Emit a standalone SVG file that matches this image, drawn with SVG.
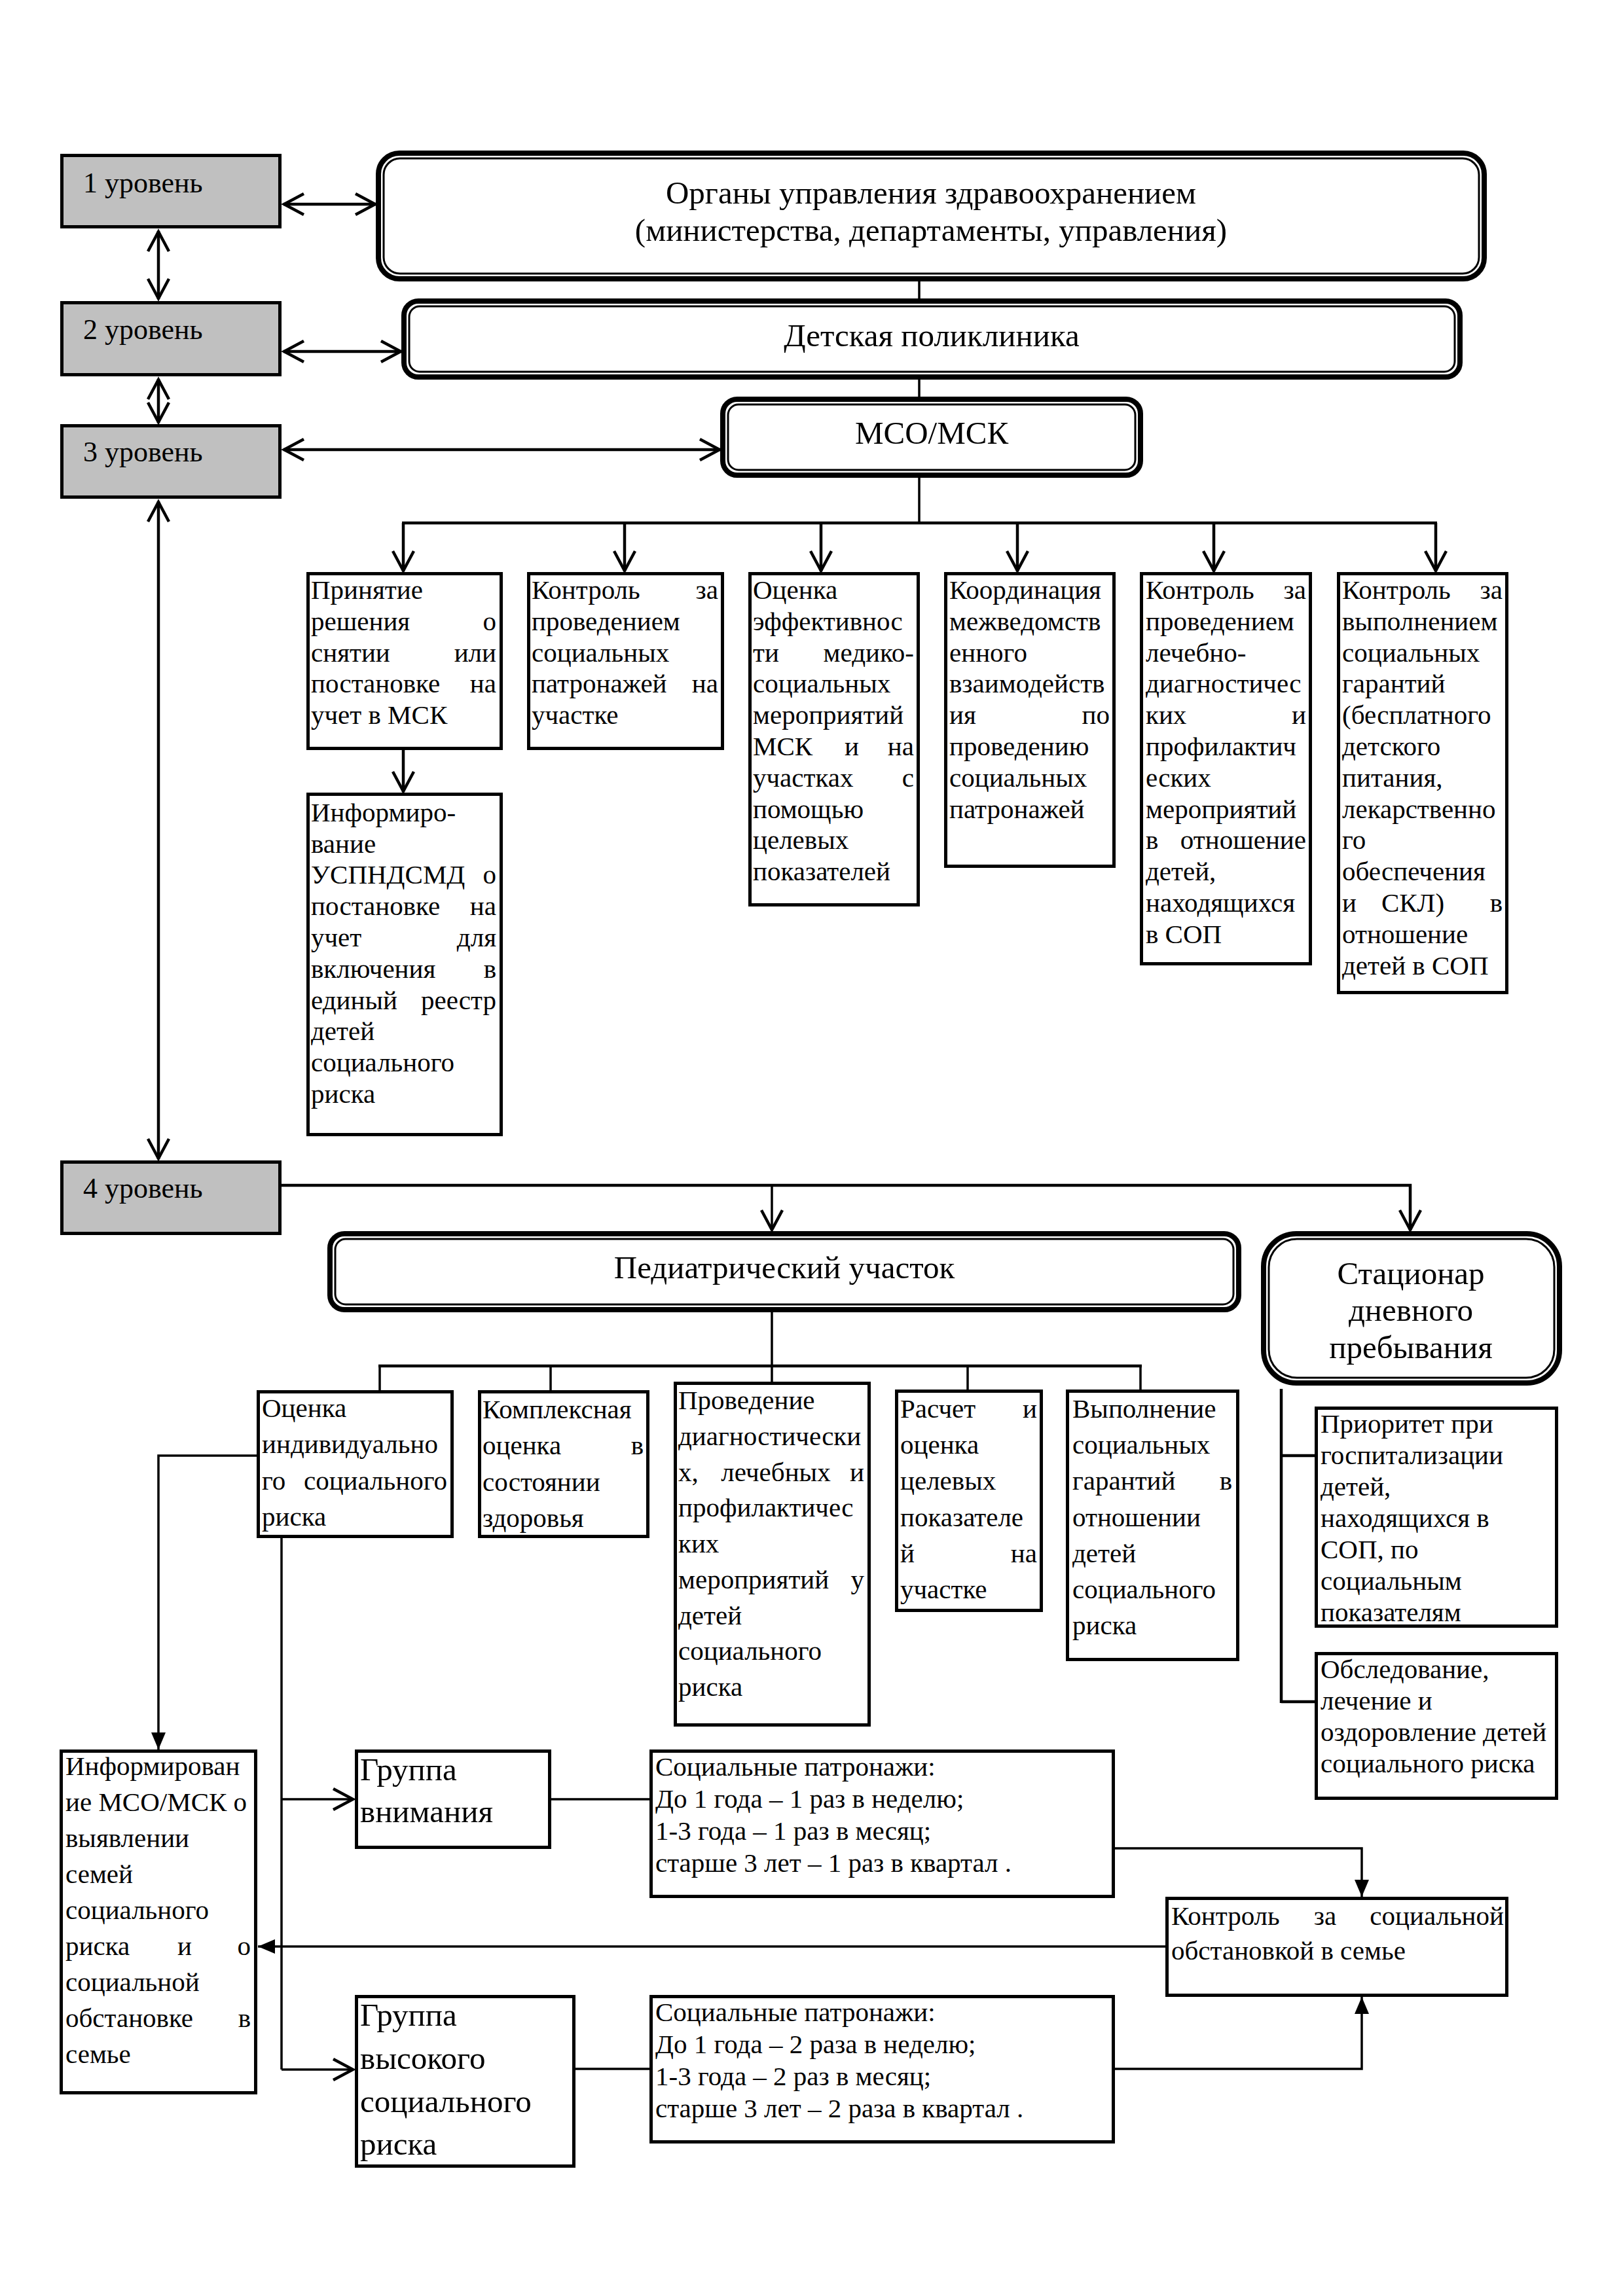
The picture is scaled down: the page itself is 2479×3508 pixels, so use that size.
<svg xmlns="http://www.w3.org/2000/svg" width="2479" height="3508" viewBox="0 0 2479 3508">
<style>
.lvl{fill:#c0c0c0;stroke:#000;stroke-width:5}
.box{fill:#fff;stroke:#000;stroke-width:5}
.outer{fill:#fff;stroke:#000;stroke-width:8}
.inner{fill:none;stroke:#000;stroke-width:3}
text{font-family:"Liberation Serif","Times New Roman",serif;font-size:41px;fill:#000}
.tl{font-size:44px}
.th{font-size:49px;text-anchor:middle}
.tg{font-size:49px}
.e{text-anchor:end}
.m{text-anchor:middle}
.ln{stroke:#000;fill:none;stroke-width:4.5}
.tn{stroke:#000;fill:none;stroke-width:3.5}
</style>
<defs>
<marker id="av" markerUnits="userSpaceOnUse" markerWidth="1" markerHeight="1" refX="0" refY="0" orient="auto-start-reverse" overflow="visible"><path d="M-31,-16 L-1,0 L-31,16" fill="none" stroke="#000" stroke-width="4.5"/></marker>
<marker id="af" markerUnits="userSpaceOnUse" markerWidth="1" markerHeight="1" refX="0" refY="0" orient="auto" overflow="visible"><path d="M-26,-11 L0,0 L-26,11 Z" fill="#000"/></marker>
</defs>
<rect width="2479" height="3508" fill="#fff"/>

<g id="connectors">
<line class="ln" x1="433" y1="312" x2="574" y2="312" marker-start="url(#av)" marker-end="url(#av)"/>
<line class="ln" x1="433" y1="537" x2="613" y2="537" marker-start="url(#av)" marker-end="url(#av)"/>
<line class="ln" x1="433" y1="687" x2="1100" y2="687" marker-start="url(#av)" marker-end="url(#av)"/>
<line class="ln" x1="242" y1="353" x2="242" y2="457" marker-start="url(#av)" marker-end="url(#av)"/>
<line class="ln" x1="242" y1="579" x2="242" y2="646" marker-start="url(#av)" marker-end="url(#av)"/>
<line class="ln" x1="242" y1="766" x2="242" y2="1771" marker-start="url(#av)" marker-end="url(#av)"/>
<line class="tn" x1="1404" y1="430" x2="1404" y2="456"/>
<line class="tn" x1="1404" y1="580" x2="1404" y2="606"/>
<line class="tn" x1="1404" y1="730" x2="1404" y2="799"/>
<line class="ln" x1="614" y1="799" x2="2195" y2="799"/>
<line class="ln" x1="616" y1="799" x2="616" y2="873" marker-end="url(#av)"/>
<line class="ln" x1="954" y1="799" x2="954" y2="873" marker-end="url(#av)"/>
<line class="ln" x1="1254" y1="799" x2="1254" y2="873" marker-end="url(#av)"/>
<line class="ln" x1="1554" y1="799" x2="1554" y2="873" marker-end="url(#av)"/>
<line class="ln" x1="1854" y1="799" x2="1854" y2="873" marker-end="url(#av)"/>
<line class="ln" x1="2193" y1="799" x2="2193" y2="873" marker-end="url(#av)"/>
<line class="ln" x1="616" y1="1146" x2="616" y2="1210" marker-end="url(#av)"/>
<polyline class="ln" points="429,1811 2154,1811 2154,1880" marker-end="url(#av)"/>
<line class="tn" x1="1179" y1="1811" x2="1179" y2="1880" marker-end="url(#av)"/>
<line class="tn" x1="1179" y1="2005" x2="1179" y2="2111"/>
<line class="ln" x1="578" y1="2087" x2="1744" y2="2087"/>
<line class="tn" x1="580" y1="2087" x2="580" y2="2124"/>
<line class="tn" x1="841" y1="2087" x2="841" y2="2124"/>
<line class="tn" x1="1478" y1="2087" x2="1478" y2="2123"/>
<line class="tn" x1="1742" y1="2087" x2="1742" y2="2123"/>
<line class="ln" x1="1957" y1="2122" x2="1957" y2="2602"/>
<line class="ln" x1="1957" y1="2224" x2="2008" y2="2224"/>
<line class="ln" x1="1957" y1="2600" x2="2008" y2="2600"/>
<polyline class="tn" points="392,2224 242,2224 242,2673" marker-end="url(#af)"/>
<line class="tn" x1="430" y1="2336" x2="430" y2="3162"/>
<line class="tn" x1="430" y1="2749" x2="540" y2="2749" marker-end="url(#av)"/>
<line class="tn" x1="430" y1="3162" x2="540" y2="3162" marker-end="url(#av)"/>
<line class="tn" x1="842" y1="2749" x2="992" y2="2749"/>
<line class="tn" x1="879" y1="3161" x2="992" y2="3161"/>
<polyline class="tn" points="1703,2824 2080,2824 2080,2898" marker-end="url(#af)"/>
<polyline class="tn" points="1703,3161 2080,3161 2080,3051" marker-end="url(#af)"/>
<line class="tn" x1="1780" y1="2974" x2="394" y2="2974" marker-end="url(#af)"/>
</g>

<g id="level1"><rect class="lvl" x="94.5" y="237.5" width="333" height="109"/><text class="tl" x="127" y="294">1 уровень</text></g>
<g id="level2"><rect class="lvl" x="94.5" y="462.5" width="333" height="110"/><text class="tl" x="127" y="518">2 уровень</text></g>
<g id="level3"><rect class="lvl" x="94.5" y="650.5" width="333" height="109"/><text class="tl" x="127" y="705">3 уровень</text></g>
<g id="level4"><rect class="lvl" x="94.5" y="1775.5" width="333" height="109"/><text class="tl" x="127" y="1830">4 уровень</text></g>

<g id="organs">
<rect class="outer" x="578" y="234" width="1689" height="192" rx="32"/>
<rect class="inner" x="586" y="242" width="1673" height="176" rx="25"/>
<text class="th" x="1422" y="311">Органы управления здравоохранением</text>
<text class="th" x="1422" y="368">(министерства, департаменты, управления)</text>
</g>
<g id="polyclinic">
<rect class="outer" x="617" y="460" width="1613" height="116" rx="22"/>
<rect class="inner" x="625" y="468" width="1597" height="100" rx="16"/>
<text class="th" x="1423" y="529">Детская поликлиника</text>
</g>
<g id="mso">
<rect class="outer" x="1104" y="610" width="638" height="116" rx="22"/>
<rect class="inner" x="1112" y="618" width="622" height="100" rx="16"/>
<text class="th" x="1423" y="678">МСО/МСК</text>
</g>

<g id="b1">
<rect class="box" x="470.5" y="876.5" width="295" height="267"/>
<text x="475" y="915">Принятие</text>
<text x="475" y="963">решения</text><text class="e" x="758" y="963">о</text>
<text x="475" y="1011">снятии</text><text class="e" x="758" y="1011">или</text>
<text x="475" y="1058">постановке</text><text class="e" x="758" y="1058">на</text>
<text x="475" y="1106">учет в МСК</text>
</g>
<g id="b1b">
<rect class="box" x="470.5" y="1213.5" width="295" height="520"/>
<text x="475" y="1255">Информиро-</text>
<text x="475" y="1303">вание</text>
<text x="475" y="1350">УСПНДСМД</text><text class="e" x="758" y="1350">о</text>
<text x="475" y="1398">постановке</text><text class="e" x="758" y="1398">на</text>
<text x="475" y="1446">учет</text><text class="e" x="758" y="1446">для</text>
<text x="475" y="1494">включения</text><text class="e" x="758" y="1494">в</text>
<text x="475" y="1542">единый</text><text class="e" x="758" y="1542">реестр</text>
<text x="475" y="1589">детей</text>
<text x="475" y="1637">социального</text>
<text x="475" y="1685">риска</text>
</g>
<g id="b2">
<rect class="box" x="807.5" y="876.5" width="296" height="267"/>
<text x="812" y="915">Контроль</text><text class="e" x="1097" y="915">за</text>
<text x="812" y="963">проведением</text>
<text x="812" y="1011">социальных</text>
<text x="812" y="1058">патронажей</text><text class="e" x="1097" y="1058">на</text>
<text x="812" y="1106">участке</text>
</g>
<g id="b3">
<rect class="box" x="1145.5" y="876.5" width="257" height="506"/>
<text x="1150" y="915">Оценка</text>
<text x="1150" y="963">эффективнос</text>
<text x="1150" y="1011">ти</text><text class="e" x="1396" y="1011">медико-</text>
<text x="1150" y="1058">социальных</text>
<text x="1150" y="1106">мероприятий</text>
<text x="1150" y="1154">МСК</text><text class="m" x="1301" y="1154">и</text><text class="e" x="1396" y="1154">на</text>
<text x="1150" y="1202">участках</text><text class="e" x="1396" y="1202">с</text>
<text x="1150" y="1250">помощью</text>
<text x="1150" y="1297">целевых</text>
<text x="1150" y="1345">показателей</text>
</g>
<g id="b4">
<rect class="box" x="1444.5" y="876.5" width="257" height="447"/>
<text x="1450" y="915">Координация</text>
<text x="1450" y="963">межведомств</text>
<text x="1450" y="1011">енного</text>
<text x="1450" y="1058">взаимодейств</text>
<text x="1450" y="1106">ия</text><text class="e" x="1695" y="1106">по</text>
<text x="1450" y="1154">проведению</text>
<text x="1450" y="1202">социальных</text>
<text x="1450" y="1250">патронажей</text>
</g>
<g id="b5">
<rect class="box" x="1743.5" y="876.5" width="258" height="596"/>
<text x="1750" y="915">Контроль</text><text class="e" x="1995" y="915">за</text>
<text x="1750" y="963">проведением</text>
<text x="1750" y="1011">лечебно-</text>
<text x="1750" y="1058">диагностичес</text>
<text x="1750" y="1106">ких</text><text class="e" x="1995" y="1106">и</text>
<text x="1750" y="1154">профилактич</text>
<text x="1750" y="1202">еских</text>
<text x="1750" y="1250">мероприятий</text>
<text x="1750" y="1297">в</text><text class="e" x="1995" y="1297">отношение</text>
<text x="1750" y="1345">детей,</text>
<text x="1750" y="1393">находящихся</text>
<text x="1750" y="1441">в СОП</text>
</g>
<g id="b6">
<rect class="box" x="2044.5" y="876.5" width="257" height="640"/>
<text x="2050" y="915">Контроль</text><text class="e" x="2295" y="915">за</text>
<text x="2050" y="963">выполнением</text>
<text x="2050" y="1011">социальных</text>
<text x="2050" y="1058">гарантий</text>
<text x="2050" y="1106">(бесплатного</text>
<text x="2050" y="1154">детского</text>
<text x="2050" y="1202">питания,</text>
<text x="2050" y="1250">лекарственно</text>
<text x="2050" y="1297">го</text>
<text x="2050" y="1345">обеспечения</text>
<text x="2050" y="1393">и</text><text class="m" x="2158" y="1393">СКЛ)</text><text class="e" x="2295" y="1393">в</text>
<text x="2050" y="1441">отношение</text>
<text x="2050" y="1489">детей в СОП</text>
</g>

<g id="pediatric">
<rect class="outer" x="504" y="1885" width="1388" height="116" rx="22"/>
<rect class="inner" x="512" y="1893" width="1372" height="100" rx="16"/>
<text class="th" x="1198" y="1953">Педиатрический участок</text>
</g>
<g id="stationar">
<rect class="outer" x="1930" y="1885" width="452" height="228" rx="50"/>
<rect class="inner" x="1938" y="1893" width="436" height="212" rx="43"/>
<text class="th" x="2155" y="1962">Стационар</text>
<text class="th" x="2155" y="2018">дневного</text>
<text class="th" x="2155" y="2075">пребывания</text>
</g>

<g id="bA">
<rect class="box" x="394.5" y="2126.5" width="296" height="221"/>
<text x="400" y="2165">Оценка</text>
<text x="400" y="2220">индивидуально</text>
<text x="400" y="2276">го</text><text class="e" x="683" y="2276">социального</text>
<text x="400" y="2331">риска</text>
</g>
<g id="bB">
<rect class="box" x="732.5" y="2126.5" width="257" height="221"/>
<text x="737" y="2167">Комплексная</text>
<text x="737" y="2222">оценка</text><text class="e" x="983" y="2222">в</text>
<text x="737" y="2278">состоянии</text>
<text x="737" y="2333">здоровья</text>
</g>
<g id="bC">
<rect class="box" x="1031.5" y="2113.5" width="296" height="522"/>
<text x="1036" y="2153">Проведение</text>
<text x="1036" y="2208">диагностически</text>
<text x="1036" y="2263">х,</text><text class="m" x="1185" y="2263">лечебных</text><text class="e" x="1320" y="2263">и</text>
<text x="1036" y="2317">профилактичес</text>
<text x="1036" y="2372">ких</text>
<text x="1036" y="2427">мероприятий</text><text class="e" x="1320" y="2427">у</text>
<text x="1036" y="2482">детей</text>
<text x="1036" y="2536">социального</text>
<text x="1036" y="2591">риска</text>
</g>
<g id="bD">
<rect class="box" x="1369.5" y="2125.5" width="221" height="335"/>
<text x="1375" y="2166">Расчет</text><text class="e" x="1584" y="2166">и</text>
<text x="1375" y="2221">оценка</text>
<text x="1375" y="2276">целевых</text>
<text x="1375" y="2332">показателе</text>
<text x="1375" y="2387">й</text><text class="e" x="1584" y="2387">на</text>
<text x="1375" y="2442">участке</text>
</g>
<g id="bE">
<rect class="box" x="1630.5" y="2125.5" width="260" height="410"/>
<text x="1638" y="2166">Выполнение</text>
<text x="1638" y="2221">социальных</text>
<text x="1638" y="2276">гарантий</text><text class="e" x="1882" y="2276">в</text>
<text x="1638" y="2332">отношении</text>
<text x="1638" y="2387">детей</text>
<text x="1638" y="2442">социального</text>
<text x="1638" y="2497">риска</text>
</g>
<g id="bF">
<rect class="box" x="2010.5" y="2151.5" width="367" height="333"/>
<text x="2017" y="2189">Приоритет при</text>
<text x="2017" y="2237">госпитализации</text>
<text x="2017" y="2285">детей,</text>
<text x="2017" y="2333">находящихся в</text>
<text x="2017" y="2381">СОП, по</text>
<text x="2017" y="2429">социальным</text>
<text x="2017" y="2477">показателям</text>
</g>
<g id="bG">
<rect class="box" x="2010.5" y="2526.5" width="367" height="221"/>
<text x="2017" y="2564">Обследование,</text>
<text x="2017" y="2612">лечение и</text>
<text x="2017" y="2660">оздоровление детей</text>
<text x="2017" y="2708">социального риска</text>
</g>

<g id="bH">
<rect class="box" x="93.5" y="2675.5" width="297" height="522"/>
<text x="100" y="2712">Информирован</text>
<text x="100" y="2767">ие МСО/МСК о</text>
<text x="100" y="2822">выявлении</text>
<text x="100" y="2877">семей</text>
<text x="100" y="2932">социального</text>
<text x="100" y="2987">риска</text><text class="m" x="282" y="2987">и</text><text class="e" x="383" y="2987">о</text>
<text x="100" y="3042">социальной</text>
<text x="100" y="3097">обстановке</text><text class="e" x="383" y="3097">в</text>
<text x="100" y="3152">семье</text>
</g>
<g id="bI">
<rect class="box" x="544.5" y="2675.5" width="295" height="147"/>
<text class="tg" x="550" y="2720">Группа</text>
<text class="tg" x="550" y="2784">внимания</text>
</g>
<g id="bJ">
<rect class="box" x="994.5" y="2675.5" width="706" height="222"/>
<text x="1001" y="2713">Социальные патронажи:</text>
<text x="1001" y="2762">До 1 года – 1 раз в неделю;</text>
<text x="1001" y="2811">1-3 года – 1 раз в месяц;</text>
<text x="1001" y="2860">старше 3 лет – 1 раз в квартал .</text>
</g>
<g id="bK">
<rect class="box" x="544.5" y="3050.5" width="332" height="259"/>
<text class="tg" x="550" y="3095">Группа</text>
<text class="tg" x="550" y="3161">высокого</text>
<text class="tg" x="550" y="3227">социального</text>
<text class="tg" x="550" y="3292">риска</text>
</g>
<g id="bL">
<rect class="box" x="994.5" y="3050.5" width="706" height="222"/>
<text x="1001" y="3088">Социальные патронажи:</text>
<text x="1001" y="3137">До 1 года – 2 раза в неделю;</text>
<text x="1001" y="3186">1-3 года – 2 раз в месяц;</text>
<text x="1001" y="3235">старше 3 лет – 2 раза в квартал .</text>
</g>
<g id="bM">
<rect class="box" x="1782.5" y="2900.5" width="519" height="148"/>
<text x="1789" y="2941">Контроль</text><text class="m" x="2024" y="2941">за</text><text class="e" x="2297" y="2941">социальной</text>
<text x="1789" y="2994">обстановкой в семье</text>
</g>
</svg>
